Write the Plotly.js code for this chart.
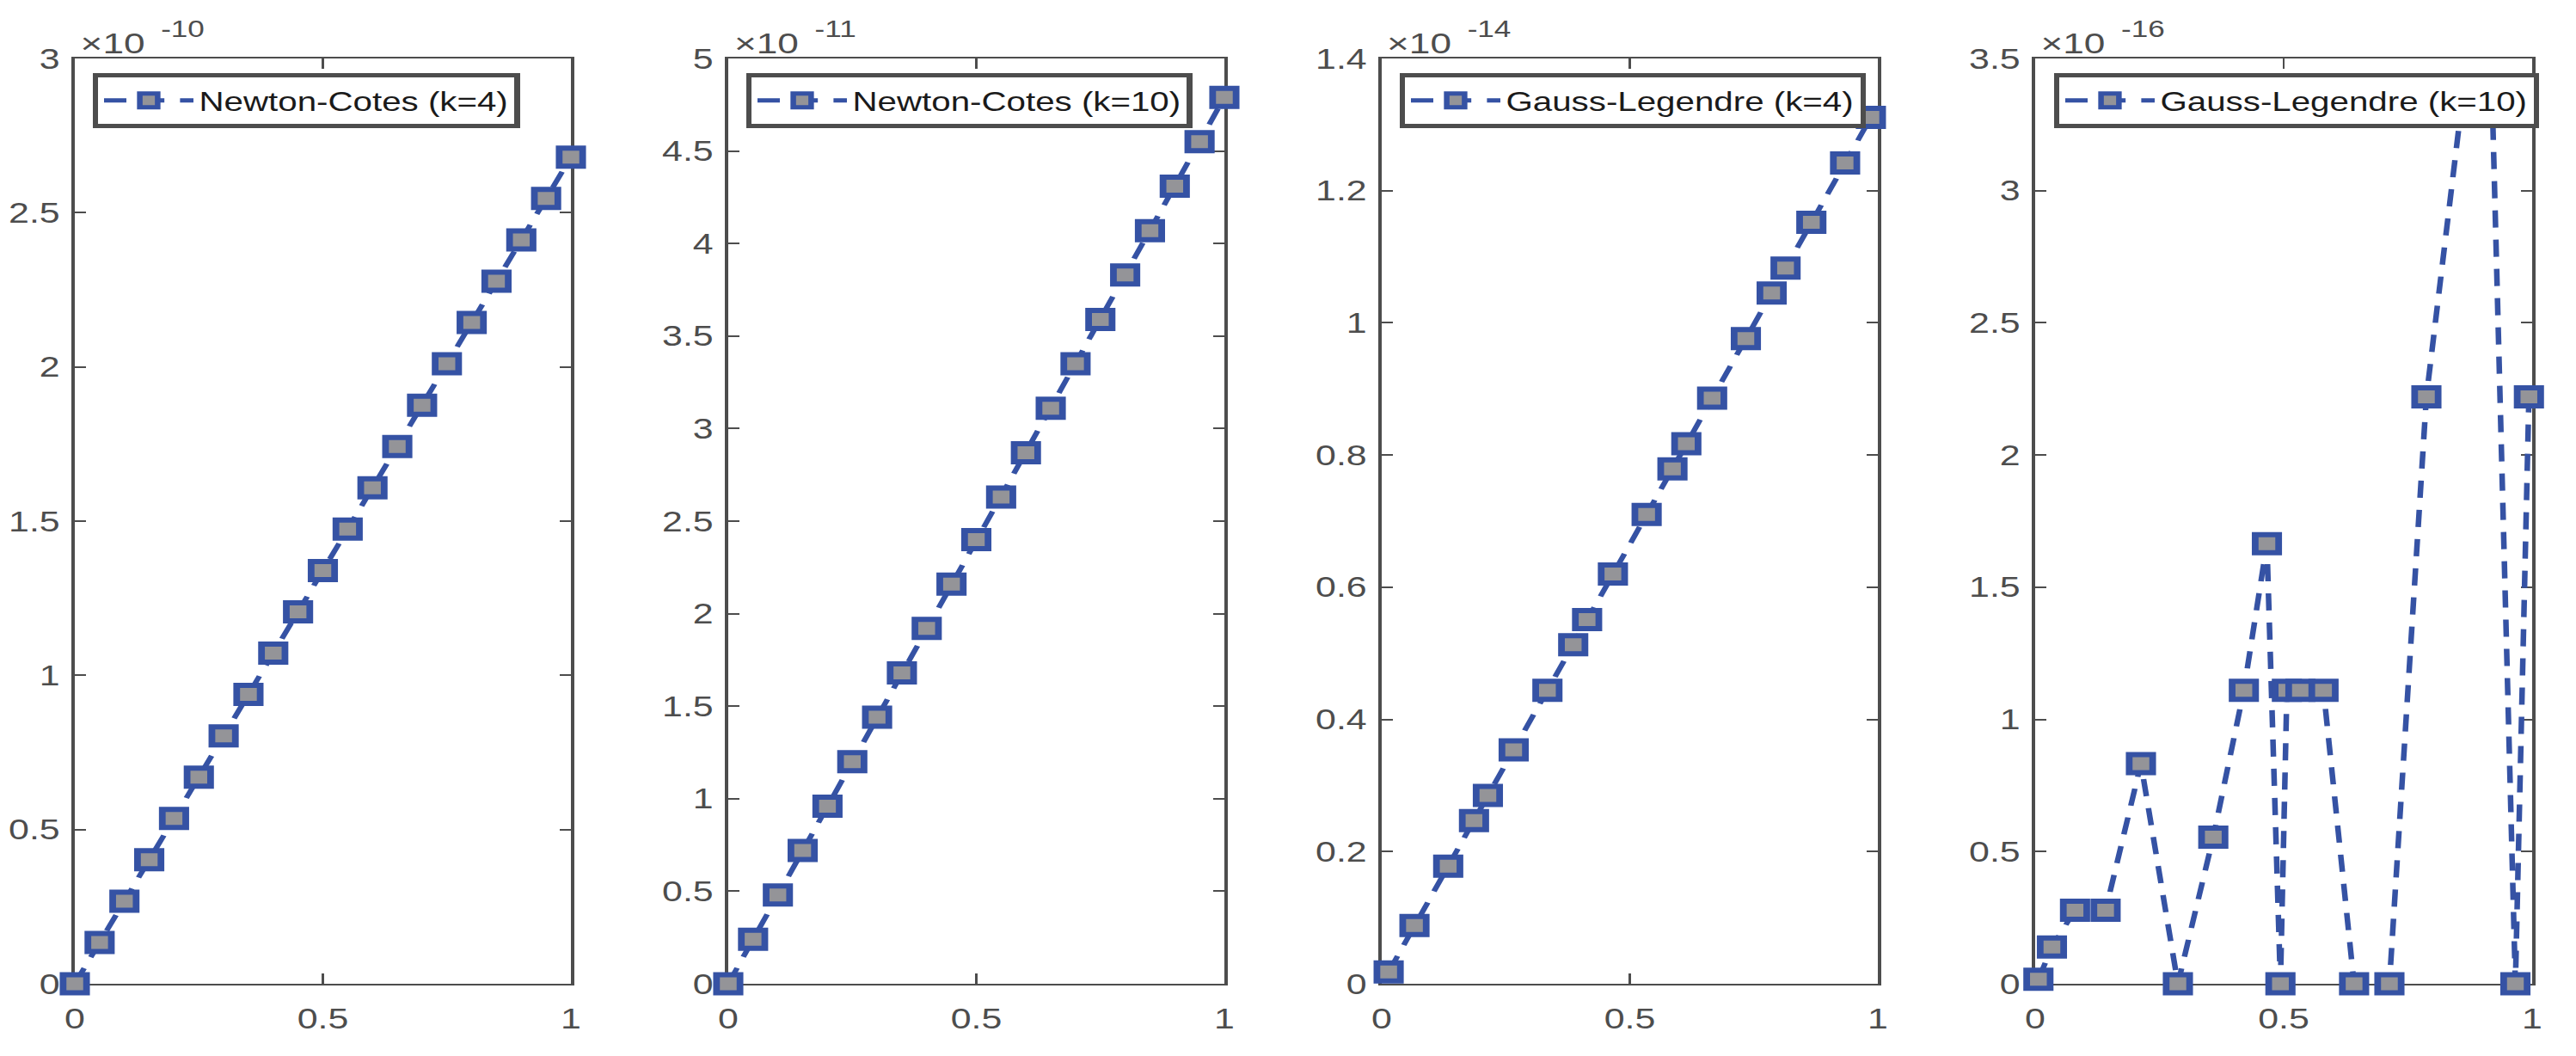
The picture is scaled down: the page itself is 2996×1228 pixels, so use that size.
<!DOCTYPE html>
<html>
<head>
<meta charset="utf-8">
<script src="https://cdn.plot.ly/plotly-3.0.1.min.js"></script>
<style>
  html, body { margin: 0; padding: 0; background: #ffffff; overflow: hidden; }
  #wrap { width: 2996px; height: 1228px; overflow: hidden; }
  #chart { width: 2305px; height: 1228px; transform-origin: 0 0; }
</style>
</head>
<body>
<div id="wrap"><div id="chart"></div></div>
<script>
// ---------------- data (y values in units of the panel's x10^exp factor) ----------------
const seriesNames = ['Newton-Cotes (k=4)', 'Newton-Cotes (k=10)', 'Gauss-Legendre (k=4)', 'Gauss-Legendre (k=10)'];
const exponents = ['-10', '-11', '-14', '-16'];

const xNC4 = [0, 0.05, 0.1, 0.15, 0.2, 0.25, 0.3, 0.35, 0.4, 0.45, 0.5, 0.55, 0.6, 0.65, 0.7, 0.75, 0.8, 0.85, 0.9, 0.95, 1];
const yNC4 = [0, 0.134, 0.268, 0.402, 0.536, 0.670, 0.804, 0.938, 1.072, 1.206, 1.340, 1.474, 1.608, 1.742, 1.876, 2.010, 2.144, 2.278, 2.412, 2.546, 2.680];

const xNC10 = [0, 0.05, 0.1, 0.15, 0.2, 0.25, 0.3, 0.35, 0.4, 0.45, 0.5, 0.55, 0.6, 0.65, 0.7, 0.75, 0.8, 0.85, 0.9, 0.95, 1];
const yNC10 = [0, 0.24, 0.48, 0.72, 0.96, 1.20, 1.44, 1.68, 1.92, 2.16, 2.40, 2.63, 2.87, 3.11, 3.35, 3.59, 3.83, 4.07, 4.31, 4.55, 4.79];

const xGL4 = [0.014, 0.066, 0.134, 0.186, 0.214, 0.266, 0.334, 0.386, 0.414, 0.466, 0.534, 0.586, 0.614, 0.666, 0.734, 0.786, 0.814, 0.866, 0.934, 0.986];
const yGL4 = [0.018, 0.088, 0.178, 0.247, 0.285, 0.354, 0.444, 0.513, 0.551, 0.620, 0.710, 0.779, 0.817, 0.886, 0.976, 1.045, 1.083, 1.152, 1.242, 1.311];

const xGL10 = [0.0065, 0.0337, 0.0802, 0.1417, 0.2128, 0.2872, 0.3584, 0.4199, 0.4663, 0.4935, 0.5065, 0.5337, 0.5802, 0.6417, 0.7128, 0.7872, 0.8584, 0.9199, 0.9663, 0.9935];
const yGL10 = [0.017, 0.139, 0.278, 0.278, 0.833, 0, 0.555, 1.11, 1.665, 0, 1.11, 1.11, 1.11, 0, 0, 2.22, 3.33, 3.33, 0, 2.22];

const xTickVals = [0, 0.5, 1];
const xTickText = ['0', '0.5', '1'];
const yTickVals1 = [0, 0.5, 1, 1.5, 2, 2.5, 3];
const yTickText1 = ['0', '0.5', '1', '1.5', '2', '2.5', '3'];
const yTickVals2 = [0, 0.5, 1, 1.5, 2, 2.5, 3, 3.5, 4, 4.5, 5];
const yTickText2 = ['0', '0.5', '1', '1.5', '2', '2.5', '3', '3.5', '4', '4.5', '5'];
const yTickVals3 = [0, 0.2, 0.4, 0.6, 0.8, 1, 1.2, 1.4];
const yTickText3 = ['0', '0.2', '0.4', '0.6', '0.8', '1', '1.2', '1.4'];
const yTickVals4 = [0, 0.5, 1, 1.5, 2, 2.5, 3, 3.5];
const yTickText4 = ['0', '0.5', '1', '1.5', '2', '2.5', '3', '3.5'];
const yRanges = [[0, 3], [0, 5], [0, 1.4], [0, 3.5]];

// ---------------- styling / layout ----------------
const STRETCH = 2996 / 2305;
const BLUE = '#3552a4';
const GRAY = '#949498';
const AXC = '#4d4d4d';
const FONT = 'Liberation Sans, Arial, Helvetica, sans-serif';

const xs = [xNC4, xNC10, xGL4, xGL10];
const ys = [yNC4, yNC10, yGL4, yGL10];
const yTV = [yTickVals1, yTickVals2, yTickVals3, yTickVals4];
const yTT = [yTickText1, yTickText2, yTickText3, yTickText4];

const domains = [[87/2996, 664/2996], [847/2996, 1424/2996], [1607/2996, 2184/2996], [2367/2996, 2945/2996]];
const legendX = [108/2996, 868/2996, 1628/2996, 2389/2996];

const traces = [];
const layout = {
  width: 2305, height: 1228,
  margin: {l: 0, r: 0, t: 68, b: 84, pad: 0},
  paper_bgcolor: '#ffffff', plot_bgcolor: '#ffffff',
  showlegend: true,
  font: {family: FONT, color: AXC},
  annotations: []
};

for (let i = 0; i < 4; i++) {
  const n = i + 1;
  const sfx = n === 1 ? '' : String(n);
  const legName = 'legend' + sfx;
  traces.push({
    type: 'scatter', mode: 'lines+markers',
    x: xs[i], y: ys[i], name: seriesNames[i],
    xaxis: 'x' + sfx, yaxis: 'y' + sfx, legend: legName,
    cliponaxis: false,
    line: {color: BLUE, width: 5, dash: '20px,14px'},
    marker: {symbol: 'square', size: 21, color: GRAY, line: {color: BLUE, width: 6}}
  });
  layout['xaxis' + sfx] = {
    domain: domains[i], anchor: 'y' + sfx, range: [0, 1],
    tickmode: 'array', tickvals: xTickVals, ticktext: xTickText,
    ticks: 'inside', ticklen: 12, tickwidth: 2, tickcolor: AXC,
    showline: true, linecolor: AXC, linewidth: 2, mirror: 'ticks',
    showgrid: false, zeroline: false, layer: 'below traces',
    tickfont: {family: FONT, size: 33, color: AXC}, ticklabelstandoff: 10,
    fixedrange: true
  };
  layout['yaxis' + sfx] = {
    domain: [0, 1], anchor: 'x' + sfx, range: yRanges[i],
    tickmode: 'array', tickvals: yTV[i], ticktext: yTT[i],
    ticks: 'inside', ticklen: 10, tickwidth: 2, tickcolor: AXC,
    showline: true, linecolor: AXC, linewidth: 2.7, mirror: 'ticks',
    showgrid: false, zeroline: false, layer: 'below traces',
    tickfont: {family: FONT, size: 33, color: AXC}, ticklabelstandoff: 4,
    fixedrange: true
  };
  layout[legName] = {
    x: legendX[i], xanchor: 'left', y: (1144 - 85) / 1076, yanchor: 'top',
    bgcolor: '#ffffff', bordercolor: AXC, borderwidth: 5,
    font: {family: FONT, size: 31, color: '#1a1a1a'},
    itemwidth: 80, tracegroupgap: 0
  };
  layout.annotations.push({
    xref: 'x' + sfx + ' domain', yref: 'y' + sfx + ' domain', x: 0, y: 1,
    xanchor: 'left', yanchor: 'middle', xshift: 3, yshift: 18,
    text: '×10', showarrow: false, font: {family: FONT, size: 34, color: AXC}
  });
  layout.annotations.push({
    xref: 'x' + sfx + ' domain', yref: 'y' + sfx + ' domain', x: 0, y: 1,
    xanchor: 'left', yanchor: 'middle', xshift: 75, yshift: 34,
    text: exponents[i], showarrow: false, font: {family: FONT, size: 27, color: AXC}
  });
}

document.getElementById('chart').style.transform = 'scaleX(' + STRETCH + ')';
Plotly.newPlot('chart', traces, layout, {displayModeBar: false, staticPlot: true, responsive: false});
</script>
</body>
</html>
